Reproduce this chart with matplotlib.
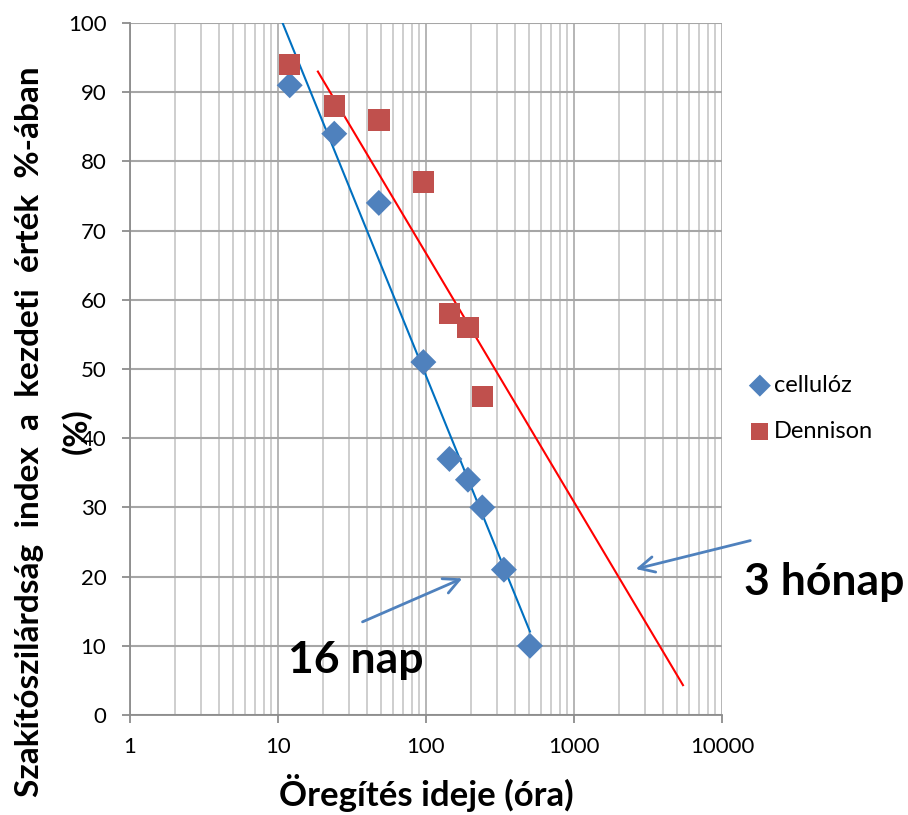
import numpy as np
import matplotlib
matplotlib.use("Agg")
import matplotlib.pyplot as plt

# Data
cell_x = [12, 24, 48, 96, 144, 192, 240, 336, 504]
cell_y = [91, 84, 74, 51, 37, 34, 30, 21, 10]
denn_x = [12, 24, 48, 96, 144, 192, 240]
denn_y = [94, 88, 86, 77, 58, 56, 46]

# Trendline spans (log fits, with forecast)
cell_trend_range = [9, 504]
denn_trend_range = [18.6, 5450]

x_ticks = [1, 10, 100, 1000, 10000]
x_tick_labels = ["1", "10", "100", "1000", "10000"]
y_ticks = [0, 10, 20, 30, 40, 50, 60, 70, 80, 90, 100]

plt.rcParams["font.family"] = ["Lato", "DejaVu Sans"]

fig = plt.figure(figsize=(9.08, 8.15), dpi=100)
ax = fig.add_axes([130 / 908, 1 - 715 / 815, 592 / 908, 692 / 815])

ax.set_xscale("log")
ax.set_xlim(1, 10000)
ax.set_ylim(0, 100)

# grid
minor = [m * 10 ** d for d in range(4) for m in range(2, 10)]
for xv in minor:
    ax.axvline(xv, color="#c6c6c6", lw=1.2, zorder=0)
for xv in x_ticks:
    ax.axvline(xv, color="#b0b0b0", lw=1.3, zorder=0)
for yv in y_ticks:
    ax.axhline(yv, color="#a6a6a6", lw=1.5, zorder=0)

# trendlines: y = a*ln(x) + b
def log_fit(xs, ys, span):
    a, b = np.polyfit(np.log(xs), ys, 1)
    xx = np.array(span, dtype=float)
    return xx, a * np.log(xx) + b

tx, ty = log_fit(cell_x, cell_y, cell_trend_range)
ax.plot(tx, ty, color="#0070C0", lw=1.5, zorder=2)
tx, ty = log_fit(denn_x, denn_y, denn_trend_range)
ax.plot(tx, ty, color="#FF0000", lw=1.5, zorder=2)

ax.scatter(cell_x, cell_y, marker="D", s=175, color="#4F81BD", zorder=3,
           label="cellulóz", edgecolors="none")
ax.scatter(denn_x, denn_y, marker="s", s=240, color="#C0504D", zorder=3,
           label="Dennison", edgecolors="none")

for s in ["top", "right"]:
    ax.spines[s].set_visible(False)
for s in ["left", "bottom"]:
    ax.spines[s].set_color("#8c8c8c")
    ax.spines[s].set_linewidth(1.3)

ax.set_xticks(x_ticks)
ax.set_xticklabels(x_tick_labels)
ax.xaxis.set_minor_locator(matplotlib.ticker.NullLocator())
ax.set_yticks(y_ticks)
ax.tick_params(axis="both", labelsize=16, colors="#8c8c8c", labelcolor="black",
               length=6, width=1.3, direction="out")
ax.tick_params(axis="x", pad=10)
ax.tick_params(axis="y", pad=11)

ax.set_xlabel("Öregítés ideje (óra)", fontsize=25, fontweight="bold", labelpad=12)

fig.text(30 / 908, 1 - 432 / 815, "Szakítószilárdság  index  a  kezdeti  érték  %-ában",
         rotation=90, ha="center", va="center", fontsize=24, fontweight="bold")
fig.text(76 / 908, 1 - 431 / 815, "(%)", rotation=90, ha="center", va="center",
         fontsize=24, fontweight="bold")

leg = ax.legend(loc="center left", bbox_to_anchor=(1.048, 0.443), frameon=False,
                fontsize=17, handlelength=0.8, handletextpad=0.2, labelspacing=1.07,
                borderaxespad=0, borderpad=0)
leg.legend_handles[0].set_sizes([126])
leg.legend_handles[1].set_sizes([150])

# annotations
ax.annotate("", xy=(183, 19.9), xytext=(35.8, 13.3),
            arrowprops=dict(arrowstyle="->", color="#4F81BD", lw=2, mutation_scale=28))
ax.annotate("", xy=(2505, 21.0), xytext=(16200, 25.3), annotation_clip=False,
            arrowprops=dict(arrowstyle="->", color="#4F81BD", lw=2, mutation_scale=28))
fig.text(356 / 908, 1 - 660 / 815, "16 nap", ha="center", va="center",
         fontsize=32, fontweight="bold")
fig.text(824 / 908, 1 - 582 / 815, "3 hónap", ha="center", va="center",
         fontsize=32, fontweight="bold")

fig.savefig("out.png", dpi=100)
